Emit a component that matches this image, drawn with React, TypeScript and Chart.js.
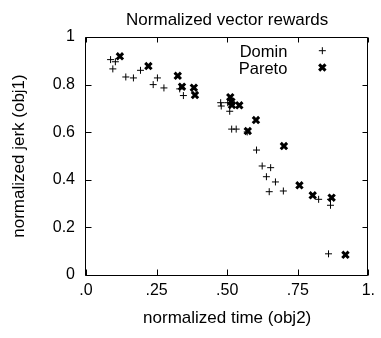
import React, { useEffect, useRef } from "react";
import { Chart, registerables } from "chart.js";

Chart.register(...registerables);

const TITLE = "Normalized vector rewards";
const X_TITLE = "normalized time (obj2)";
const Y_TITLE = "normalized jerk (obj1)";

const X_TICK_VALUES = [0, 0.25, 0.5, 0.75, 1];
const X_TICK_LABELS = [".0", ".25", ".50", ".75", "1."];
const Y_TICK_VALUES = [0, 0.2, 0.4, 0.6, 0.8, 1];
const Y_TICK_LABELS = ["0", "0.2", "0.4", "0.6", "0.8", "1"];

const SERIES_NAMES = ["Domin", "Pareto"];

const DOMIN_X = [0.087, 0.104, 0.095, 0.141, 0.168, 0.193, 0.253, 0.238, 0.276, 0.332, 0.345, 0.477, 0.479, 0.502, 0.509, 0.516, 0.532, 0.571, 0.604, 0.624, 0.654, 0.639, 0.671, 0.649, 0.699, 0.824, 0.866, 0.866, 0.859];
const DOMIN_Y = [0.905, 0.896, 0.866, 0.832, 0.828, 0.86, 0.828, 0.8, 0.786, 0.782, 0.754, 0.724, 0.71, 0.724, 0.688, 0.613, 0.613, 0.601, 0.525, 0.458, 0.451, 0.413, 0.391, 0.35, 0.353, 0.318, 0.318, 0.293, 0.089];

const PARETO_X = [0.12, 0.221, 0.325, 0.34, 0.382, 0.386, 0.511, 0.515, 0.517, 0.543, 0.602, 0.573, 0.701, 0.756, 0.803, 0.87, 0.919];
const PARETO_Y = [0.919, 0.878, 0.837, 0.791, 0.787, 0.756, 0.747, 0.728, 0.714, 0.713, 0.651, 0.605, 0.542, 0.377, 0.335, 0.325, 0.085];

const FONT = '"Liberation Sans", Arial, Helvetica, sans-serif';

const framePlugin = {
  id: "frame",
  beforeDatasetsDraw(chart: any) {
    const { ctx, chartArea } = chart;
    const { left, right, top, bottom } = chartArea;
    const xs = chart.scales.x;
    const ys = chart.scales.y;
    const L = Math.round(left) - 0.5;
    const R = Math.round(right) - 0.5;
    const T = Math.round(top) + 0.5;
    const B = Math.round(bottom) + 0.5;
    ctx.save();
    ctx.strokeStyle = "#000";
    ctx.lineWidth = 1;
    ctx.beginPath();
    ctx.moveTo(L, T);
    ctx.lineTo(R, T);
    ctx.lineTo(R, B);
    ctx.lineTo(L, B);
    ctx.closePath();
    ctx.stroke();
    ctx.beginPath();
    xs.ticks.forEach((t: any) => {
      const px = Math.round(xs.getPixelForValue(t.value)) + 0.5;
      ctx.moveTo(px, B);
      ctx.lineTo(px, B - 6);
      ctx.moveTo(px, T);
      ctx.lineTo(px, T + 5);
    });
    ys.ticks.forEach((t: any) => {
      const py = Math.round(ys.getPixelForValue(t.value)) + 0.5;
      ctx.moveTo(L, py);
      ctx.lineTo(L + 6, py);
      ctx.moveTo(R, py);
      ctx.lineTo(R - 5, py);
    });
    ctx.stroke();
    ctx.restore();
  },
};

function drawMarker(ctx: CanvasRenderingContext2D, style: string, x: number, y: number, r: number, w: number) {
  ctx.save();
  ctx.strokeStyle = "#000";
  ctx.lineWidth = w;
  ctx.beginPath();
  if (style === "cross") {
    ctx.moveTo(x - r, y);
    ctx.lineTo(x + r, y);
    ctx.moveTo(x, y - r);
    ctx.lineTo(x, y + r);
  } else {
    const d = r * Math.SQRT1_2;
    ctx.moveTo(x - d, y - d);
    ctx.lineTo(x + d, y + d);
    ctx.moveTo(x - d, y + d);
    ctx.lineTo(x + d, y - d);
  }
  ctx.stroke();
  ctx.restore();
}

const legendPlugin = {
  id: "innerLegend",
  afterDatasetsDraw(chart: any) {
    const { ctx, chartArea } = chart;
    const { right, top } = chartArea;
    ctx.save();
    ctx.fillStyle = "#000";
    ctx.font = "16.5px " + FONT;
    ctx.textAlign = "right";
    ctx.textBaseline = "alphabetic";
    chart.data.datasets.forEach((ds: any, i: number) => {
      const ty = top + 19.7 + i * 16.8;
      ctx.fillText(ds.label, right - 81, ty);
      drawMarker(ctx, ds.pointStyle, right - 46, ty - 6, ds.pointRadius, ds.borderWidth);
    });
    ctx.restore();
  },
};

export default function App() {
  const ref = useRef<HTMLCanvasElement | null>(null);

  useEffect(() => {
    if (!ref.current) return;
    Chart.defaults.color = "#000";
    Chart.defaults.font.family = FONT;
    const chart = new Chart(ref.current, {
      type: "scatter",
      data: {
        datasets: [
          {
            label: SERIES_NAMES[0],
            data: DOMIN_X.map((x, i) => ({ x, y: DOMIN_Y[i] })),
            pointStyle: "cross",
            pointRadius: 3.5,
            borderWidth: 1,
            borderColor: "#000",
            backgroundColor: "#000",
          },
          {
            label: SERIES_NAMES[1],
            data: PARETO_X.map((x, i) => ({ x, y: PARETO_Y[i] })),
            pointStyle: "crossRot",
            pointRadius: 4.5,
            borderWidth: 3,
            borderColor: "#000",
            backgroundColor: "#000",
          },
        ],
      },
      options: {
        responsive: false,
        animation: false,
        devicePixelRatio: 1,
        layout: { padding: { top: 0, right: 7, bottom: 0, left: 0 } },
        plugins: {
          legend: { display: false },
          tooltip: { enabled: false },
          title: {
            display: true,
            text: TITLE,
            fullSize: false,
            color: "#000",
            font: { size: 17, weight: "normal", family: FONT },
            padding: { top: 10, bottom: 6.6 },
          },
        },
        scales: {
          x: {
            type: "linear",
            min: 0,
            max: 1,
            afterBuildTicks: (scale: any) => {
              scale.ticks = X_TICK_VALUES.map((v) => ({ value: v }));
            },
            afterFit: (scale: any) => {
              scale.height = 63;
            },
            grid: { display: false, drawTicks: false },
            border: { display: false },
            ticks: {
              autoSkip: false,
              maxRotation: 0,
              padding: 6,
              color: "#000",
              font: { size: 16, family: FONT },
              callback: (value: any) => {
                const i = X_TICK_VALUES.findIndex((v) => Math.abs(v - value) < 1e-6);
                return i >= 0 ? X_TICK_LABELS[i] : "";
              },
            },
            title: {
              display: true,
              text: X_TITLE,
              color: "#000",
              font: { size: 17, family: FONT },
              padding: { top: 0, bottom: 9 },
            },
          },
          y: {
            type: "linear",
            min: 0,
            max: 1,
            afterBuildTicks: (scale: any) => {
              scale.ticks = Y_TICK_VALUES.map((v) => ({ value: v }));
            },
            afterFit: (scale: any) => {
              scale.width = 86;
            },
            grid: { display: false, drawTicks: false },
            border: { display: false },
            ticks: {
              autoSkip: false,
              padding: 11,
              color: "#000",
              font: { size: 16, family: FONT },
              callback: (value: any) => {
                const i = Y_TICK_VALUES.findIndex((v) => Math.abs(v - value) < 1e-6);
                return i >= 0 ? Y_TICK_LABELS[i] : "";
              },
            },
            title: {
              display: true,
              text: Y_TITLE,
              color: "#000",
              font: { size: 17, family: FONT },
              padding: { top: 9, bottom: 0 },
            },
          },
        },
      },
      plugins: [framePlugin, legendPlugin],
    } as any);
    return () => chart.destroy();
  }, []);

  return (
    <div style={{ position: "absolute", left: 0, top: 0, width: 381, height: 338, background: "#fff" }}>
      <canvas ref={ref} width={381} height={338} style={{ display: "block" }} />
    </div>
  );
}
